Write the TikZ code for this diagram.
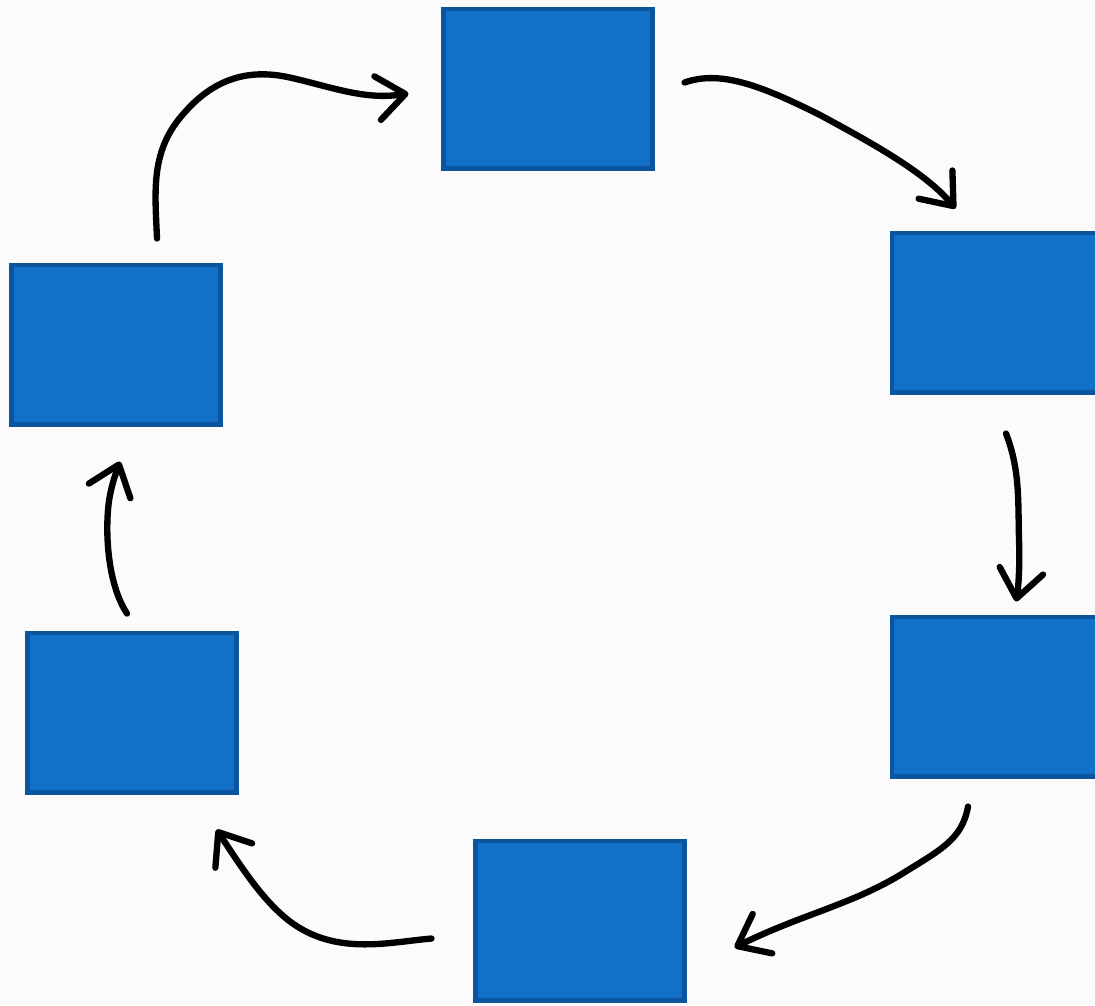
\documentclass[tikz,border=0pt]{standalone}
\usetikzlibrary{arrows.meta,calc}
\definecolor{boxfill}{HTML}{1170C8}
\definecolor{boxedge}{HTML}{0B559E}
\definecolor{paper}{HTML}{FBFBFB}
\begin{document}
\begin{tikzpicture}[x=0.01cm,y=-0.01cm,
  stagebox/.style={draw=boxedge,fill=boxfill,line width=1.4pt,inner sep=0pt,
    minimum width=2.08cm,minimum height=1.59cm},
  cyclearrow/.style={line width=1.8pt,line cap=round,line join=round,
    -{Straight Barb[length=0.28cm,width=0.44cm,line cap=round,line join=round]}}]
  \clip (0,0) rectangle (1095,1005);
  \fill[paper] (0,0) rectangle (1095,1005);

  % the six stages of the cycle
  \node[stagebox] (n1) at (548,88.5) {};
  \node[stagebox] (n2) at (996,312.5) {};
  \node[stagebox] (n3) at (996,696.5) {};
  \node[stagebox] (n4) at (580,920.5) {};
  \node[stagebox] (n5) at (132,712.5) {};
  \node[stagebox] (n6) at (116,344.5) {};

  % free ends of the hand-drawn connectors
  \coordinate (a1s) at ($(n6.north)+(41,-24)$);
  \coordinate (a1e) at ($(n1.west)+(-33,5)$);
  \coordinate (a2s) at ($(n1.east)+(30,-6)$);
  \coordinate (a2e) at ($(n2.north west)+(66,-22)$);
  \coordinate (a3s) at ($(n2.south)+(10,39)$);
  \coordinate (a3e) at ($(n3.north)+(20,-13)$);
  \coordinate (a4s) at ($(n3.south)+(-28,28)$);
  \coordinate (a4e) at ($(n4.east)+(48,27)$);
  \coordinate (a5s) at ($(n4.west)+(-42,18)$);
  \coordinate (a5e) at ($(n5.south east)+(-22,35)$);
  \coordinate (a6s) at ($(n5.north)+(-5,-17)$);
  \coordinate (a6e) at ($(n6.south)+(4,35)$);

  \draw[cyclearrow] (a1s) .. controls (155,190) and (150,150) .. (185,112)
    .. controls (215,78) and (250,68) .. (292,78)
    .. controls (335,88) and (365,100) .. (a1e);
  \draw[cyclearrow] (a2s) .. controls (720,70) and (760,85) .. (820,115)
    .. controls (870,142) and (925,172) .. (a2e);
  \draw[cyclearrow] (a3s) .. controls (1020,470) and (1018,500) .. (1019,540)
    .. controls (1020,570) and (1018,590) .. (a3e);
  \draw[cyclearrow] (a4s) .. controls (962,840) and (940,850) .. (900,875)
    .. controls (850,905) and (800,915) .. (a4e);
  \draw[cyclearrow] (a5s) .. controls (390,942) and (340,955) .. (295,925)
    .. controls (265,905) and (240,865) .. (a5e);
  \draw[cyclearrow] (a6s) .. controls (105,580) and (105,520) .. (110,495)
    .. controls (113,480) and (117,470) .. (a6e);
\end{tikzpicture}
\end{document}
